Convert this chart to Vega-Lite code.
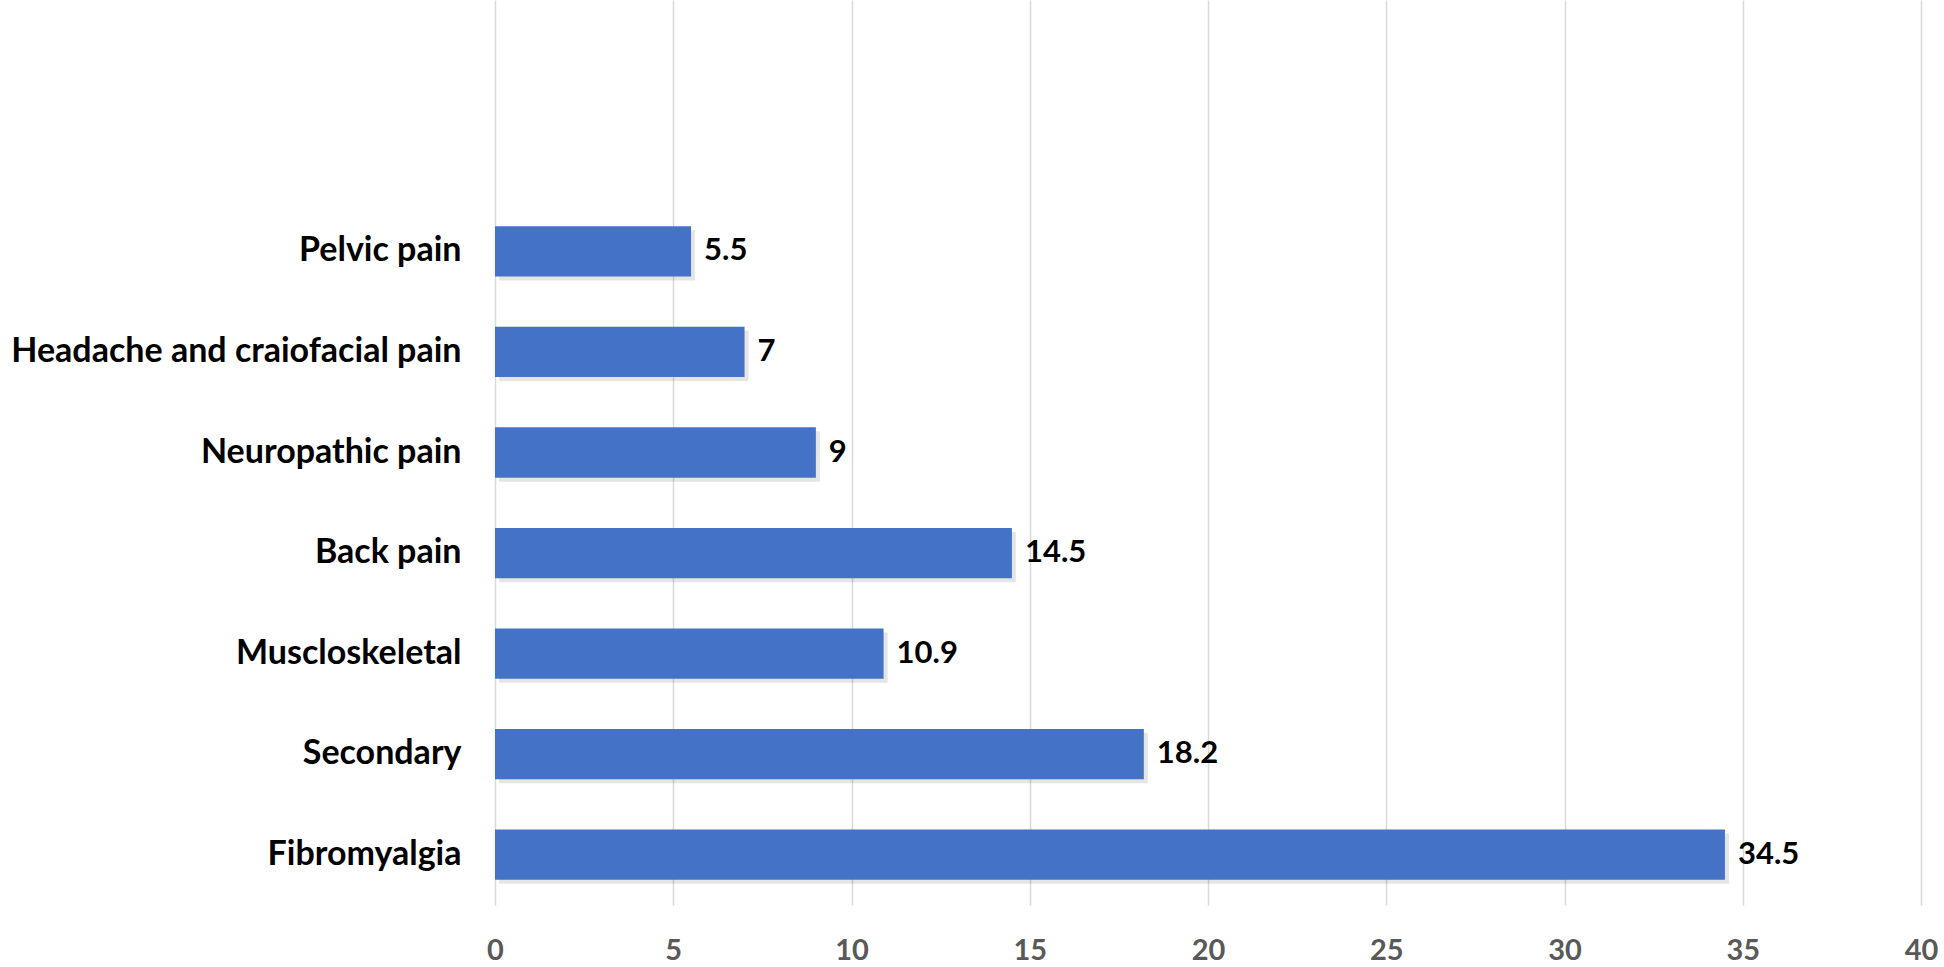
{
  "$schema": "https://vega.github.io/schema/vega-lite/v6.json",
  "autosize": {"type": "none"},
  "padding": {"left": 495, "top": 0, "right": 23, "bottom": 62},
  "width": 1426,
  "height": 905,
  "background": "white",
  "config": {"view": {"stroke": null}},
  "data": {
    "values": [
      {"category": "Pelvic pain", "value": 5.5},
      {"category": "Headache and craiofacial pain", "value": 7},
      {"category": "Neuropathic pain", "value": 9},
      {"category": "Back pain", "value": 14.5},
      {"category": "Muscloskeletal", "value": 10.9},
      {"category": "Secondary", "value": 18.2},
      {"category": "Fibromyalgia", "value": 34.5}
    ]
  },
  "encoding": {
    "y": {
      "field": "category",
      "type": "nominal",
      "scale": {
        "domain": ["blank1", "blank2", "Pelvic pain", "Headache and craiofacial pain", "Neuropathic pain", "Back pain", "Muscloskeletal", "Secondary", "Fibromyalgia"],
        "paddingInner": 0.5,
        "paddingOuter": 0.25
      },
      "axis": {
        "title": null,
        "domain": false,
        "ticks": false,
        "grid": false,
        "labelExpr": "indexof(datum.value, 'blank') == 0 ? '' : datum.value",
        "labelFont": "Lato",
        "labelFontWeight": "bold",
        "labelFontSize": 34,
        "labelColor": "#000000",
        "labelPadding": 34,
        "labelLimit": 600
      }
    },
    "x": {
      "field": "value",
      "type": "quantitative",
      "scale": {"domain": [0, 40], "nice": false},
      "axis": {
        "title": null,
        "values": [0, 5, 10, 15, 20, 25, 30, 35, 40],
        "domain": false,
        "ticks": false,
        "grid": true,
        "gridColor": "#d9d9d9",
        "gridWidth": 1.5,
        "labelFont": "Lato",
        "labelFontWeight": "bold",
        "labelFontSize": 29,
        "labelColor": "#595959",
        "labelPadding": 31,
        "labelFlush": false
      }
    }
  },
  "layer": [
    {
      "mark": {"type": "bar", "color": "#000000", "opacity": 0.1, "xOffset": 4, "yOffset": 4}
    },
    {
      "mark": {"type": "bar", "color": "#4472C4"}
    },
    {
      "mark": {"type": "text", "align": "left", "baseline": "middle", "dx": 13, "font": "Lato", "fontWeight": "bold", "fontSize": 31, "color": "#000000"},
      "encoding": {"text": {"field": "value", "type": "quantitative"}}
    }
  ]
}
